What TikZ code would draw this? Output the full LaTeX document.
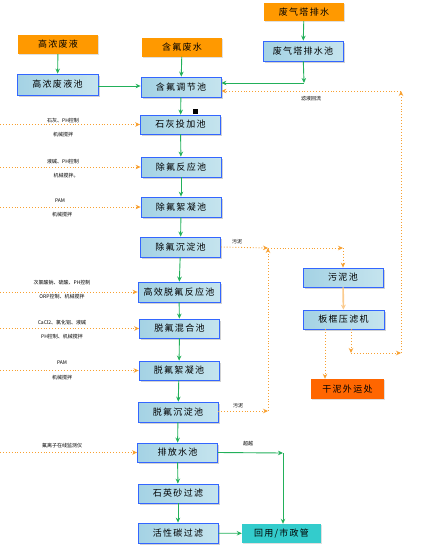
\documentclass[tikz,border=0pt]{standalone}
\usepackage{fontspec}
\usepackage{tikz}
\usetikzlibrary{arrows.meta,shadows}

\newfontfamily\cjk[LetterSpace=14]{Noto Sans CJK SC}
\newfontfamily\cjknote{Noto Sans CJK SC}

\definecolor{poolline}{HTML}{3366FF}
\definecolor{poolleft}{HTML}{A4D2E4}
\definecolor{poolmid}{HTML}{EAF6F9}
\definecolor{poolright}{HTML}{C5E4EE}
\definecolor{srcorange}{HTML}{FF9900}
\definecolor{dryorange}{HTML}{FF6600}
\definecolor{reuseteal}{HTML}{33CCCC}
\definecolor{flowgreen}{HTML}{22B05A}
\definecolor{feedorange}{HTML}{F8A030}

\tikzset{
  pool/.style={draw=poolline, line width=0.8pt, left color=poolleft, middle color=poolmid,
    right color=poolright, minimum width=80pt, minimum height=20pt, inner sep=0pt,
    font={\cjk\fontsize{9}{10}\selectfont},
    drop shadow={shadow xshift=1.5pt, shadow yshift=-1.5pt, fill=black!35}},
  source/.style={fill=srcorange, minimum width=80pt, minimum height=19pt, inner sep=0pt,
    font={\cjk\fontsize{9}{10}\selectfont},
    drop shadow={shadow xshift=1.2pt, shadow yshift=-1.2pt, fill=black!25}},
  flow/.style={draw=flowgreen, line width=0.9pt, -{Stealth[length=5pt,width=4.5pt]}},
  feed/.style={draw=feedorange, dotted, line width=0.9pt, -{Stealth[length=5pt,width=4.5pt]}},
  note/.style={font={\cjknote\fontsize{5}{6}\selectfont}, inner sep=0pt},
}

\begin{document}
\begin{tikzpicture}[x=1pt, y=-1pt]
    \useasboundingbox (0,0) rectangle (423,549);

    % sources
    \node[source] (hw) at (58, 44.5) {高浓废液};
    \node[source] (fw) at (182, 47) {含氟废水};
    \node[source, minimum height=18pt] (gw) at (304, 12) {废气塔排水};

    % pools
    \node[pool, minimum width=81pt, minimum height=21pt] (hwpool) at (57.5, 84.5) {高浓废液池};
    \node[pool] (gwpool) at (303, 51) {废气塔排水池};
    \node[pool] (adj) at (181, 87) {含氟调节池};
    \node[pool, minimum height=19pt] (lime) at (180.5, 124.5) {石灰投加池};
    \node[pool] (react) at (181, 167) {除氟反应池};
    \node[pool] (floc) at (181, 207) {除氟絮凝池};
    \node[pool] (sed) at (180.5, 247) {除氟沉淀池};
    \node[pool, minimum width=82pt] (hreact) at (179, 292) {高效脱氟反应池};
    \node[pool, minimum height=19pt] (mix) at (179.5, 328.5) {脱氟混合池};
    \node[pool, minimum height=19pt] (floc2) at (179, 370.5) {脱氟絮凝池};
    \node[pool] (sed2) at (178, 412) {脱氟沉淀池};
    \node[pool, minimum height=19pt] (dis) at (177.5, 452.5) {排放水池};
    \node[pool, minimum height=19pt] (sand) at (178, 493.5) {石英砂过滤};
    \node[pool] (carbon) at (178, 533) {活性碳过滤};
    \node[pool, minimum height=19pt] (sludge) at (343, 277.5) {污泥池};
    \node[pool, minimum width=81pt, minimum height=19pt] (press) at (343.5, 319.5) {板框压滤机};

    % outlets
    \node[source, fill=reuseteal, minimum width=79pt, drop shadow={fill=none,opacity=0}] (reuse) at (281.5, 533.5) {回用/市政管};
    \node[source, fill=dryorange, minimum width=73pt, minimum height=20pt] (dry) at (347.5, 389) {干泥外运处};

    % main water line
    \draw[flow] (hw) -- (hwpool);
    \draw[flow] (fw) -- (adj);
    \draw[flow] (gw) -- (gwpool);
    \draw[flow] ([yshift=-1.5pt]hwpool.east) -- ([yshift=-1.5pt]hwpool.east -| adj.west);
    \coordinate (gwturn) at (304, 83);
    \draw[flow] (gwpool) -- (gwturn);
    \draw[flow] (gwturn) -- ([yshift=4pt]adj.east);
    \draw[flow] (adj) -- (lime);
    \draw[flow] (lime) -- (react);
    \draw[flow] (react) -- (floc);
    \draw[flow] (floc) -- (sed);
    \draw[flow] (sed) -- (hreact);
    \draw[flow] (hreact) -- (mix);
    \draw[flow] (mix) -- (floc2);
    \draw[flow] (floc2) -- (sed2);
    \draw[flow] (sed2) -- (dis);
    \draw[flow] (dis) -- (sand);
    \draw[flow] (sand) -- (carbon);
    \draw[flow] (carbon) -- (reuse);
    \coordinate (bypass) at (283, 453);
    \draw[flow] (dis.east) -- (bypass);
    \draw[flow] (bypass) -- (bypass |- reuse.north);
    \node[note] at (248, 444) {超越};

    % dosing from the left
    \coordinate (edge) at (0, 0);
    \draw[feed] (edge |- lime.west) -- (lime.west);
    \node[note] at (63, 121) {石灰、PH控制};
    \node[note] at (63, 135) {机械搅拌};
    \draw[feed] (edge |- react.west) -- (react.west);
    \node[note] at (63, 162) {液碱、PH控制};
    \node[note] at (66, 176) {机械搅拌。};
    \draw[feed] (edge |- floc.west) -- (floc.west);
    \node[note] at (60, 201) {PAM};
    \node[note] at (62, 215) {机械搅拌};
    \draw[feed] (edge |- hreact.west) -- (hreact.west);
    \node[note] at (62, 283) {次氯酸钠、硫酸、PH控制};
    \node[note] at (62, 297) {ORP控制、机械搅拌};
    \draw[feed] (edge |- mix.west) -- (mix.west);
    \node[note] at (62, 323) {CaCl2、氯化铝、液碱};
    \node[note] at (62, 337) {PH控制、机械搅拌};
    \draw[feed] (edge |- floc2.west) -- (floc2.west);
    \node[note] at (62, 363) {PAM};
    \node[note] at (62, 378) {机械搅拌};
    \draw[feed] (edge |- dis.west) -- (dis.west);
    \node[note] at (62, 446) {氟离子在线监测仪};

    % sludge line
    \coordinate (sjoin) at (268, 248);
    \coordinate (sjoin2) at (268, 411);
    \coordinate (sturn) at (343, 248);
    \draw[feed] (sed.east) -- (sjoin);
    \node[note] at (237, 242) {污泥};
    \draw[feed] (sed2.east |- sjoin2) -- (sjoin2);
    \node[note] at (238, 406) {污泥};
    \draw[feed] (sjoin2) -- (sjoin);
    \draw[feed] (sjoin) -- (sturn);
    \draw[feed] (sturn) -- (sludge.north);
    \draw[draw=feedorange!55, line width=1.6pt, -{Stealth[length=5pt,width=5pt]}] (sludge) -- (press);
    \draw[feed] ([xshift=-18.5pt]press.south) -- ([xshift=-18.5pt]press.south |- dry.north);

    % filtrate back to the equalisation pool
    \coordinate (ret1) at (351, 353);
    \coordinate (ret2) at (401, 353);
    \coordinate (ret3) at (401, 91);
    \draw[feed] (press.south -| ret1) -- (ret1);
    \draw[feed] (ret1) -- (ret2);
    \draw[feed] (ret2) -- (ret3);
    \draw[feed] (ret3) -- ([yshift=-4pt]adj.east);
    \node[note] at (311, 99) {滤液回流};

    \fill (193, 109) rectangle (198, 114);
\end{tikzpicture}
\end{document}
